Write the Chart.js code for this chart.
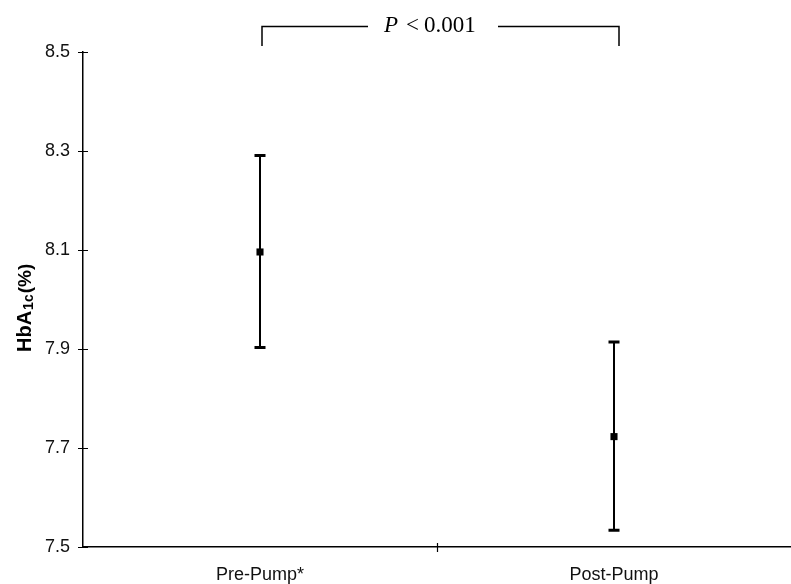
<!DOCTYPE html>
<html>
<head>
<meta charset="utf-8">
<script src="https://cdn.jsdelivr.net/npm/chart.js@4.4.1/dist/chart.umd.min.js"></script>
<style>
  html, body { margin: 0; padding: 0; background: #fff; }
  #wrap { width: 791px; height: 584px; position: relative; }
</style>
</head>
<body>
<div id="wrap"><canvas id="c" width="791" height="584"></canvas></div>
<script>
const categories = ['Pre-Pump*', 'Post-Pump'];
const meanValues = [8.096, 7.723];
const upperValues = [8.291, 7.914];
const lowerValues = [7.903, 7.534];
const yTickValues = [7.5, 7.7, 7.9, 8.1, 8.3, 8.5];
const pValueText = '< 0.001';

const overlay = {
  id: 'overlay',
  beforeDatasetsDraw(chart) {
    const ctx = chart.ctx;
    const xs = chart.scales.x, ys = chart.scales.y;
    ctx.save();
    ctx.strokeStyle = '#000';
    for (let i = 0; i < categories.length; i++) {
      const x = xs.getPixelForValue(i);
      const yH = ys.getPixelForValue(upperValues[i]);
      const yL = ys.getPixelForValue(lowerValues[i]);
      ctx.lineWidth = 2;
      ctx.beginPath(); ctx.moveTo(x, yH); ctx.lineTo(x, yL); ctx.stroke();
      ctx.lineWidth = 3;
      ctx.beginPath();
      ctx.moveTo(x - 5.5, yH); ctx.lineTo(x + 5.5, yH);
      ctx.moveTo(x - 5.5, yL); ctx.lineTo(x + 5.5, yL);
      ctx.stroke();
    }
    ctx.restore();
  },
  afterDraw(chart) {
    const ctx = chart.ctx;
    const xs = chart.scales.x, ys = chart.scales.y;
    const a = chart.chartArea;
    ctx.save();
    ctx.strokeStyle = '#000';
    ctx.lineWidth = 1.2;
    // y ticks crossing the axis
    ctx.beginPath();
    yTickValues.forEach(v => {
      const y = Math.round(ys.getPixelForValue(v)) + 0.5;
      ctx.moveTo(a.left - 5, y); ctx.lineTo(a.left + 5, y);
    });
    // x tick between categories
    const xb = Math.round((xs.getPixelForValue(0) + xs.getPixelForValue(1)) / 2) + 0.5;
    ctx.moveTo(xb, a.bottom - 4); ctx.lineTo(xb, a.bottom + 5);
    ctx.stroke();

    // significance bracket
    const x0 = xs.getPixelForValue(0) + 2;
    const x1 = xs.getPixelForValue(1) + 5;
    const yTop = 26.5, yBot = 46;
    ctx.lineWidth = 1.5;
    ctx.beginPath();
    ctx.moveTo(x0, yBot); ctx.lineTo(x0, yTop); ctx.lineTo(368, yTop);
    ctx.moveTo(498, yTop); ctx.lineTo(x1, yTop); ctx.lineTo(x1, yBot);
    ctx.stroke();

    ctx.fillStyle = '#000';
    ctx.textBaseline = 'alphabetic';
    ctx.textAlign = 'left';
    ctx.font = 'italic 23px "Liberation Serif", "Times New Roman", serif';
    ctx.fillText('P', 384, 32);
    ctx.font = '23px "Liberation Serif", "Times New Roman", serif';
    ctx.fillText('<', 406, 32);
    ctx.fillText('0.001', 424, 32);

    // y axis title with subscript
    ctx.save();
    ctx.translate(31, 352);
    ctx.rotate(-Math.PI / 2);
    ctx.font = 'bold 20px "Liberation Sans", Arial, sans-serif';
    ctx.fillText('HbA', 0, 0);
    let w = ctx.measureText('HbA').width;
    ctx.font = 'bold 14px "Liberation Sans", Arial, sans-serif';
    ctx.fillText('1c', w + 1, 2);
    w += ctx.measureText('1c').width + 2;
    ctx.font = 'bold 19px "Liberation Sans", Arial, sans-serif';
    ctx.fillText('(%)', w, 0);
    ctx.restore();
    ctx.restore();
  }
};

new Chart(document.getElementById('c'), {
  type: 'line',
  data: {
    labels: categories,
    datasets: [{
      data: meanValues,
      showLine: false,
      pointStyle: 'rect',
      pointRadius: 5,
      pointHoverRadius: 5,
      backgroundColor: '#000',
      borderColor: '#000',
      borderWidth: 0
    }]
  },
  options: {
    responsive: false,
    animation: false,
    events: [],
    layout: { autoPadding: false, padding: { top: 52, right: 0, left: 0, bottom: 0 } },
    plugins: { legend: { display: false }, tooltip: { enabled: false } },
    scales: {
      x: {
        type: 'category',
        offset: true,
        grid: { display: false, drawTicks: false },
        border: { display: true, color: '#000', width: 1.5 },
        ticks: {
          color: '#111',
          padding: 17,
          font: { family: '"Liberation Sans", Arial, sans-serif', size: 18 }
        },
        afterFit(scale) { scale.height = 37; }
      },
      y: {
        type: 'linear',
        min: 7.5,
        max: 8.5,
        grid: { display: false, drawTicks: false },
        border: { display: true, color: '#000', width: 1.5 },
        afterBuildTicks(scale) { scale.ticks = yTickValues.map(v => ({ value: v })); },
        ticks: {
          color: '#111',
          padding: 13,
          font: { family: '"Liberation Sans", Arial, sans-serif', size: 18 },
          callback: v => Number(v).toFixed(1)
        },
        afterFit(scale) { scale.width = 83; }
      }
    }
  },
  plugins: [overlay]
});
</script>
</body>
</html>
